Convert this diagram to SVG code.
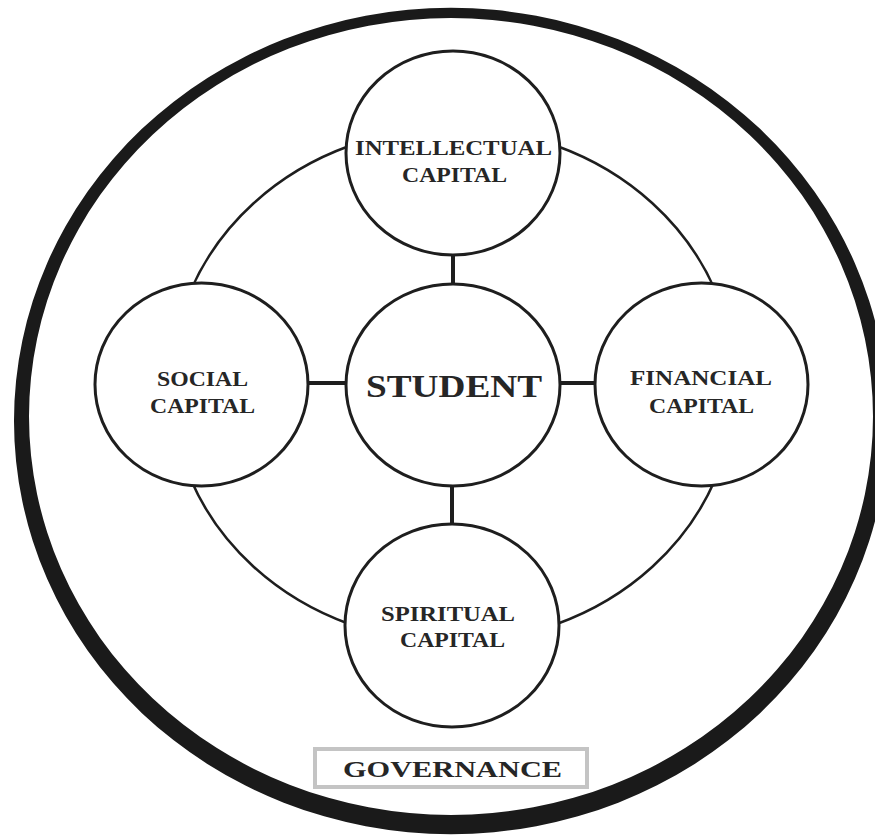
<svg xmlns="http://www.w3.org/2000/svg" width="875" height="836" viewBox="0 0 875 836">
<style>
.node{fill:#fff;stroke:#1e1e1e;stroke-width:3}
.lbl{font-family:"Liberation Serif","Times New Roman",serif;font-weight:bold;fill:#262626;text-anchor:middle}
.conn{stroke:#1e1e1e;stroke-width:4;fill:none}
</style>
<rect width="875" height="836" fill="#fff"/>
<g id="outer">
<path fill="#1a1a1a" fill-rule="evenodd" d="M14,421 A437,413 0 1,0 888,421 A437,413 0 1,0 14,421 Z M29,416.5 A422,398.5 0 1,0 873,416.5 A422,398.5 0 1,0 29,416.5 Z"/>
</g>
<g id="ring">
<ellipse cx="453" cy="385" rx="282" ry="257" fill="none" stroke="#1e1e1e" stroke-width="2.5"/>
</g>
<g id="connectors">
<line class="conn" x1="453" y1="254" x2="453" y2="286"/>
<line class="conn" x1="306" y1="383" x2="348" y2="383"/>
<line class="conn" x1="558" y1="383" x2="597" y2="383"/>
<line class="conn" x1="452" y1="485" x2="452" y2="525"/>
</g>
<g id="intellectual">
<ellipse class="node" cx="453" cy="153" rx="107" ry="102"/>
<text class="lbl" x="453.5" y="155" font-size="22" textLength="197" lengthAdjust="spacingAndGlyphs">INTELLECTUAL</text>
<text class="lbl" x="454.5" y="182" font-size="22" textLength="105" lengthAdjust="spacingAndGlyphs">CAPITAL</text>
</g>
<g id="social">
<ellipse class="node" cx="201.5" cy="384.5" rx="106.5" ry="101.5"/>
<text class="lbl" x="202.5" y="386" font-size="21" textLength="91" lengthAdjust="spacingAndGlyphs">SOCIAL</text>
<text class="lbl" x="202.5" y="413" font-size="21" textLength="105" lengthAdjust="spacingAndGlyphs">CAPITAL</text>
</g>
<g id="student">
<ellipse class="node" cx="453" cy="385" rx="107" ry="101"/>
<text class="lbl" x="454" y="397" font-size="32" textLength="176" lengthAdjust="spacingAndGlyphs">STUDENT</text>
</g>
<g id="financial">
<ellipse class="node" cx="701.5" cy="384.5" rx="106.5" ry="101.5"/>
<text class="lbl" x="701" y="385" font-size="21" textLength="142" lengthAdjust="spacingAndGlyphs">FINANCIAL</text>
<text class="lbl" x="701.5" y="413" font-size="21" textLength="105" lengthAdjust="spacingAndGlyphs">CAPITAL</text>
</g>
<g id="spiritual">
<ellipse class="node" cx="452" cy="625.5" rx="107" ry="101.5"/>
<text class="lbl" x="448" y="621" font-size="21" textLength="134" lengthAdjust="spacingAndGlyphs">SPIRITUAL</text>
<text class="lbl" x="452.5" y="647" font-size="21" textLength="105" lengthAdjust="spacingAndGlyphs">CAPITAL</text>
</g>
<g id="governance">
<rect x="315" y="749" width="272" height="38" fill="#fff" stroke="#c4c4c4" stroke-width="4"/>
<text class="lbl" x="452.5" y="777" font-size="24" textLength="219" lengthAdjust="spacingAndGlyphs">GOVERNANCE</text>
</g>
</svg>
